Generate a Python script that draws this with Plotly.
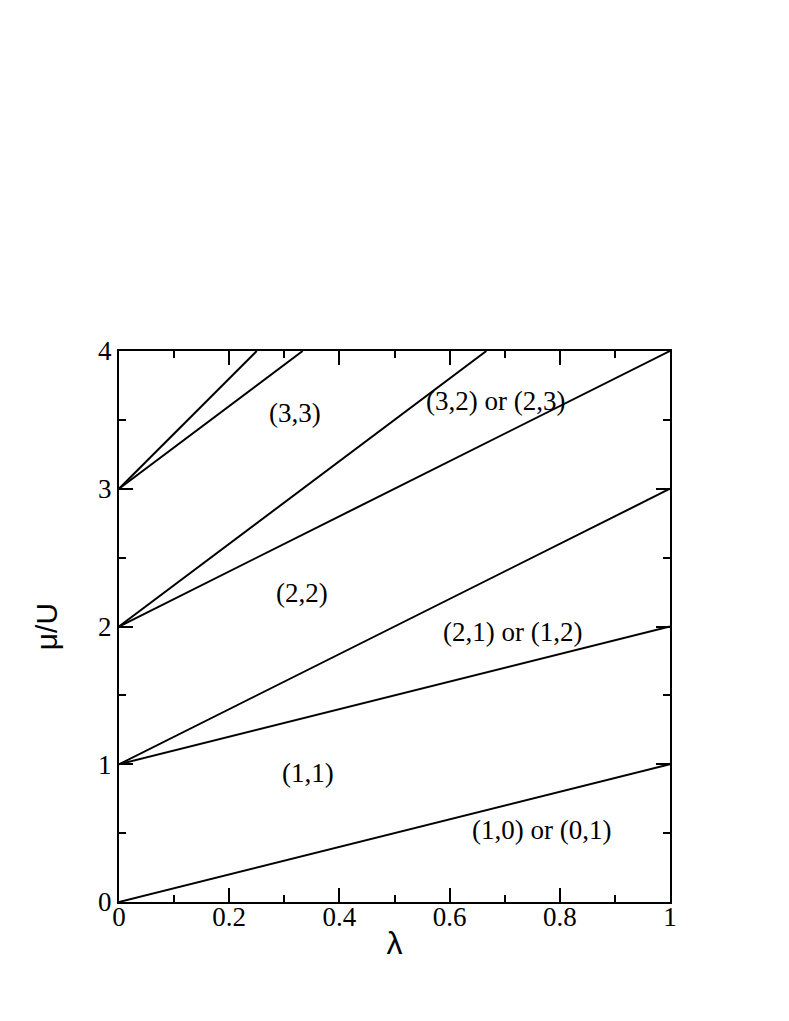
import plotly.graph_objects as go

# phase boundaries: start mu/U at lambda=0, end point (lambda, mu/U)
lam_start = [0, 0, 0, 0, 0, 0, 0]
mu_start = [0, 1, 1, 2, 2, 3, 3]
lam_end = [1, 1, 1, 1, 0.6667, 0.3333, 0.25]
mu_end = [1, 2, 3, 4, 4, 4, 4]

# region labels
label_text = ["(3,3)", "(3,2) or (2,3)", "(2,2)", "(2,1) or (1,2)", "(1,1)", "(1,0) or (0,1)"]
label_x = [0.32, 0.684, 0.332, 0.715, 0.343, 0.766]
label_y = [3.55, 3.64, 2.24, 1.96, 0.94, 0.52]

fig = go.Figure()
for x0, y0, x1, y1 in zip(lam_start, mu_start, lam_end, mu_end):
    fig.add_trace(go.Scatter(x=[x0, x1], y=[y0, y1], mode="lines",
                             line=dict(color="black", width=2), showlegend=False,
                             hoverinfo="skip"))

for t, x, y in zip(label_text, label_x, label_y):
    fig.add_annotation(x=x, y=y, text=t, showarrow=False,
                       font=dict(family="Liberation Serif", size=27, color="black"))

axis_common = dict(
    showgrid=False, zeroline=False, showline=True, linecolor="black", linewidth=2,
    mirror="allticks", ticks="inside", ticklen=14, tickwidth=1.5, tickcolor="black",
    tickfont=dict(family="Liberation Serif", size=27, color="black"),
)

fig.update_xaxes(range=[0, 1], tickvals=[0, 0.2, 0.4, 0.6, 0.8, 1],
                 ticktext=["0", "0.2", "0.4", "0.6", "0.8", "1"],
                 minor=dict(dtick=0.1, ticks="inside", ticklen=7, tickwidth=1.5, tickcolor="black"),
                 title=dict(text="λ", font=dict(family="Liberation Sans", size=32, color="black"), standoff=0),
                 ticklabelstandoff=-10,
                 **axis_common)
fig.update_yaxes(range=[0, 4], tickvals=[0, 1, 2, 3, 4],
                 minor=dict(dtick=0.5, ticks="inside", ticklen=7, tickwidth=1.5, tickcolor="black"),
                 title=dict(text="μ/U", font=dict(family="Liberation Sans", size=30, color="black"), standoff=32),
                 **axis_common)

fig.update_layout(
    width=789, height=1021,
    margin=dict(l=111, r=127, t=343, b=127),
    plot_bgcolor="white", paper_bgcolor="white",
)

fig.write_html("out.html")
